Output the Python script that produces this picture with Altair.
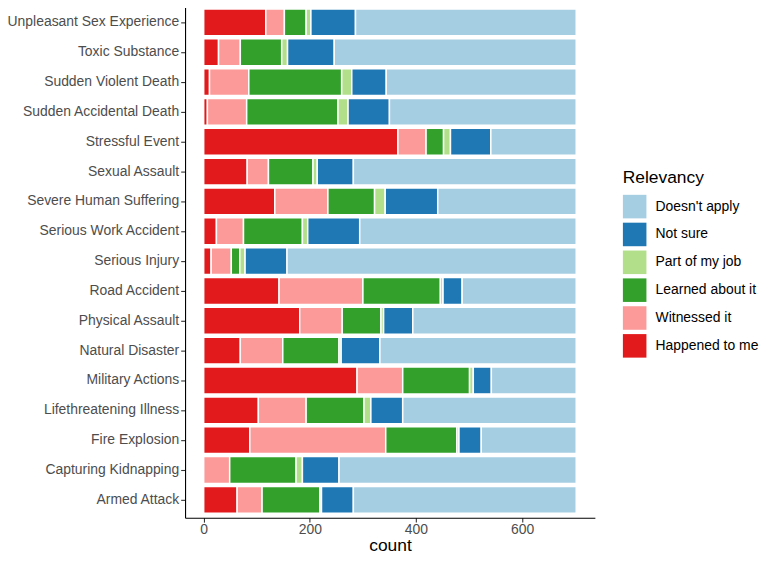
import altair as alt
import pandas as pd

categories = [
    "Unpleasant Sex Experience", "Toxic Substance", "Sudden Violent Death",
    "Sudden Accidental Death", "Stressful Event", "Sexual Assault",
    "Severe Human Suffering", "Serious Work Accident", "Serious Injury",
    "Road Accident", "Physical Assault", "Natural Disaster", "Military Actions",
    "Lifethreatening Illness", "Fire Explosion", "Capturing Kidnapping",
    "Armed Attack",
]
happened     = [117, 28, 11, 7, 366, 82, 134, 24, 14, 142, 181, 69, 289, 103, 87, 0, 63]
witnessed    = [35, 41, 74, 74, 53, 40, 100, 51, 38, 158, 80, 80, 86, 90, 256, 49, 47]
learned      = [41, 78, 175, 172, 33, 84, 88, 111, 16, 146, 73, 106, 126, 109, 134, 125, 109]
part_job     = [9, 11, 19, 19, 13, 8, 20, 10, 10, 5, 5, 4, 7, 13, 4, 12, 3]
not_sure     = [84, 88, 65, 78, 76, 68, 99, 98, 79, 36, 55, 73, 34, 60, 42, 69, 60]
doesnt_apply = [416, 456, 358, 352, 161, 420, 261, 408, 545, 215, 308, 370, 160, 327, 179, 447, 420]

levels = ["Happened to me", "Witnessed it", "Learned about it", "Part of my job", "Not sure", "Doesn't apply"]
colors = ["#E31A1C", "#FB9A99", "#33A02C", "#B2DF8A", "#1F78B4", "#A6CEE3"]

series = [happened, witnessed, learned, part_job, not_sure, doesnt_apply]
rows = []
for k, (lvl, vals) in enumerate(zip(levels, series)):
    for cat, v in zip(categories, vals):
        rows.append({"event": cat, "relevancy": lvl, "count": v, "ord": k})
df = pd.DataFrame(rows)

FONT = "Liberation Sans"

chart = alt.Chart(df).mark_bar(stroke="white", strokeWidth=1.5).encode(
    y=alt.Y(
        "event:N", sort=categories,
        scale=alt.Scale(paddingInner=0.1, paddingOuter=0.15),
        axis=alt.Axis(title=None, labelFontSize=14, labelColor="#4D4D4D", labelFont=FONT,
                      tickSize=4.4, tickColor="#333333", tickWidth=1.1, labelPadding=2,
                      domainColor="black", domainWidth=1.1, grid=False, labelLimit=400),
    ),
    x=alt.X(
        "count:Q", stack="zero",
        scale=alt.Scale(domain=[-35.1, 737.1], nice=False, zero=False),
        axis=alt.Axis(values=[0, 200, 400, 600], title="count", grid=False,
                      labelFontSize=14, labelColor="#4D4D4D", labelFont=FONT,
                      tickSize=4.4, tickColor="#333333", tickWidth=1.1, labelPadding=0.5,
                      domainColor="black", domainWidth=1.1,
                      titleFontSize=17.5, titleFontWeight="normal", titleColor="black",
                      titleFont=FONT, titlePadding=0),
    ),
    color=alt.Color(
        "relevancy:N",
        scale=alt.Scale(domain=levels[::-1], range=colors[::-1]),
        legend=alt.Legend(
            title="Relevancy", orient="none", legendX=440, legendY=165.7,
            titleFontSize=17.5, titleFontWeight="normal", titleColor="black", titleFont=FONT,
            titlePadding=8, labelFontSize=14, labelColor="black", labelFont=FONT,
            symbolType="square", symbolSize=560, symbolStrokeWidth=0, symbolOpacity=1,
            rowPadding=4, labelOffset=9,
        ),
    ),
    order=alt.Order("ord:Q"),
).properties(
    width=412, height=516,
    padding={"left": -2, "top": -5, "right": 0, "bottom": 0},
).configure_view(stroke=None)

chart.save("out.html", embed_options={"renderer": "svg", "actions": False})
